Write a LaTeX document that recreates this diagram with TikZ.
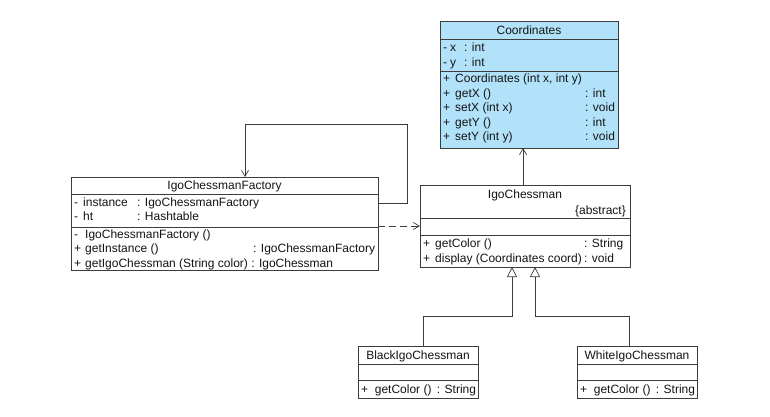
\documentclass[tikz,border=0pt]{standalone}
\usepackage{fontspec}
\setmainfont{Liberation Sans}
\usetikzlibrary{arrows.meta}
\definecolor{coordfill}{RGB}{178,226,250}
\definecolor{umlline}{RGB}{60,60,60}
\definecolor{umltext}{RGB}{20,20,20}
\newcommand{\umlfont}{\fontsize{12}{14}\selectfont}
\tikzset{
  cls/.style={draw=umlline, line width=0.7pt, fill=white, inner sep=0pt, outer sep=0pt, anchor=north west},
  sep/.style={draw=umlline, line width=0.7pt},
  txt/.style={inner sep=0pt, anchor=mid west, font=\umlfont, text=umltext, yshift=-1.5pt},
  ttl/.style={inner sep=0pt, anchor=mid, font=\umlfont, text=umltext, yshift=-1.5pt},
  conn/.style={draw=umlline, line width=0.7pt},
  navi/.style={conn, -{Straight Barb[length=6pt,width=7pt,line width=0.7pt]}},
  depend/.style={navi, dash pattern=on 7pt off 4pt},
  inherit/.style={conn, -{Triangle[open, length=10pt, width=10pt, fill=white, line width=0.7pt]}}
}
\begin{document}
\begin{tikzpicture}[x=1pt, y=-1pt]
\useasboundingbox (0,0) rectangle (770,416);

% ---- Coordinates ----
\node[cls, fill=coordfill, minimum width=178, minimum height=127] (coord) at (440,21) {};
\draw[sep] (440,39) -- (618,39);
\draw[sep] (440,71) -- (618,71);
\node[ttl] (coordT) at (529,30) {Coordinates};
\node[txt] (coordA1) at (443,47) {\makebox[7pt][l]{-}\makebox[14pt][l]{x}: int};
\node[txt] (coordA2) at (443,62) {\makebox[7pt][l]{-}\makebox[14pt][l]{y}: int};
\node[txt] (coordM1) at (443,78) {\makebox[12pt][l]{+}Coordinates (int x, int y)};
\node[txt] (coordM2) at (443,93) {\makebox[12pt][l]{+}\makebox[130pt][l]{getX ()}: int};
\node[txt] (coordM3) at (443,107) {\makebox[12pt][l]{+}\makebox[130pt][l]{setX (int x)}: void};
\node[txt] (coordM4) at (443,122) {\makebox[12pt][l]{+}\makebox[130pt][l]{getY ()}: int};
\node[txt] (coordM5) at (443,136) {\makebox[12pt][l]{+}\makebox[130pt][l]{setY (int y)}: void};

% ---- IgoChessmanFactory ----
\node[cls, minimum width=307, minimum height=93] (fac) at (71,177) {};
\draw[sep] (71,194) -- (378,194);
\draw[sep] (71,227) -- (378,227);
\node[ttl] (facT) at (224.5,185) {IgoChessmanFactory};
\node[txt] (facA1) at (74,202) {\makebox[9pt][l]{-}\makebox[54pt][l]{instance}: IgoChessmanFactory};
\node[txt] (facA2) at (74,216) {\makebox[9pt][l]{-}\makebox[54pt][l]{ht}: Hashtable};
\node[txt] (facM1) at (74,234) {\makebox[11pt][l]{-}IgoChessmanFactory ()};
\node[txt] (facM2) at (74,248) {\makebox[11pt][l]{+}\makebox[168pt][l]{getInstance ()}: IgoChessmanFactory};
\node[txt] (facM3) at (74,263) {\makebox[11pt][l]{+}getIgoChessman (String color) : IgoChessman};

% ---- IgoChessman ----
\node[cls, minimum width=210, minimum height=82] (chess) at (420,185) {};
\draw[sep] (420,218) -- (630,218);
\draw[sep] (420,235) -- (630,235);
\node[ttl] (chessT) at (525,194) {IgoChessman};
\node[txt, anchor=mid east] (chessS) at (626,210) {\{abstract\}};
\node[txt] (chessM1) at (423,243) {\makebox[12pt][l]{+}\makebox[149pt][l]{getColor ()}: String};
\node[txt] (chessM2) at (423,258) {\makebox[12pt][l]{+}\makebox[149pt][l]{display (Coordinates coord)}: void};

% ---- BlackIgoChessman ----
\node[cls, minimum width=120, minimum height=52] (black) at (358,346) {};
\draw[sep] (358,364) -- (478,364);
\draw[sep] (358,380) -- (478,380);
\node[ttl] (blackT) at (418,355) {BlackIgoChessman};
\node[txt] (blackM1) at (361,389) {+ \ getColor () \,: String};

% ---- WhiteIgoChessman ----
\node[cls, minimum width=120, minimum height=52] (white) at (577,346) {};
\draw[sep] (577,364) -- (697,364);
\draw[sep] (577,380) -- (697,380);
\node[ttl] (whiteT) at (637,355) {WhiteIgoChessman};
\node[txt] (whiteM1) at (580,389) {+ \ getColor () \,: String};

% ---- bend points ----
\coordinate (loopR) at (407,124);
\coordinate (loopL) at (245,124);
\coordinate (depX) at (523,0);
\coordinate (genB) at (423,316);
\coordinate (genW) at (629,316);
\coordinate (genBx) at (512,0);
\coordinate (genWx) at (535,0);

% ---- connectors ----
\draw[navi] (fac.east |- 0,203) -| (loopR) -- (loopL) -- (fac.north -| loopL);
\draw[depend] (fac.east |- 0,226) -- (chess.west |- 0,226);
\draw[navi] (chess.north -| depX) -- (coord.south -| depX);
\draw[inherit] (black.north -| genB) -- (genB) -| (chess.south -| genBx);
\draw[inherit] (white.north -| genW) -- (genW) -| (chess.south -| genWx);
\end{tikzpicture}
\end{document}
